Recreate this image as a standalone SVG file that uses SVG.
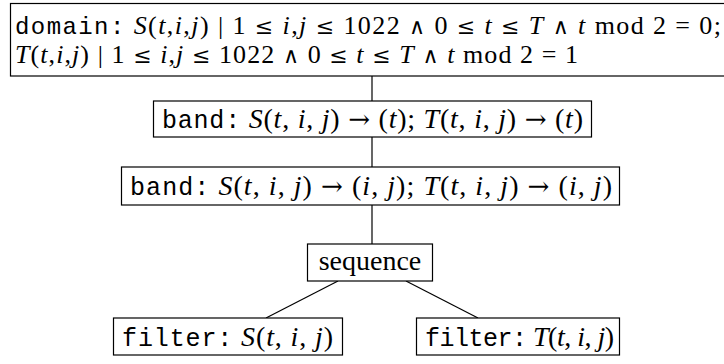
<svg xmlns="http://www.w3.org/2000/svg" width="724" height="364" viewBox="0 0 724 364">
<style>
.box{fill:#fff;stroke:#000;stroke-width:1.2}
.ln{stroke:#000;stroke-width:1.2;fill:none}
text{font-family:"Liberation Serif","DejaVu Serif",serif;font-size:28px;fill:#000}
.tt{font-family:"Liberation Mono","DejaVu Sans Mono",monospace;font-size:25px}
.it{font-style:italic}
.sy{font-family:"DejaVu Serif","Liberation Serif",serif;font-size:24px}
.ar{font-family:"DejaVu Serif","Liberation Serif",serif;font-size:26px}
.d{font-size:26px}
.d .tt{font-size:24px}
.d .sy{font-size:22px}
</style>
<rect width="724" height="364" fill="#fff"/>
<g id="connectors">
<line class="ln" x1="372" y1="76" x2="372" y2="101"/>
<line class="ln" x1="372" y1="137" x2="372" y2="167"/>
<line class="ln" x1="372" y1="205" x2="372" y2="244"/>
<line class="ln" x1="338" y1="281" x2="266" y2="318"/>
<line class="ln" x1="406" y1="281" x2="478" y2="318"/>
</g>
<g id="domain">
<rect class="box" x="10.5" y="3.5" width="740" height="72.5"/>
<text class="d" x="15" y="34" textLength="706" lengthAdjust="spacing"><tspan class="tt">domain:</tspan> <tspan class="it">S</tspan>(<tspan class="it">t</tspan>,<tspan class="it">i</tspan>,<tspan class="it">j</tspan>) | 1 <tspan class="sy">≤</tspan> <tspan class="it">i</tspan>,<tspan class="it">j</tspan> <tspan class="sy">≤</tspan> 1022 <tspan class="sy">∧</tspan> 0 <tspan class="sy">≤</tspan> <tspan class="it">t</tspan> <tspan class="sy">≤</tspan> <tspan class="it">T</tspan> <tspan class="sy">∧</tspan> <tspan class="it">t</tspan> mod 2 = 0;</text>
<text class="d" x="15" y="63" textLength="563" lengthAdjust="spacing"><tspan class="it">T</tspan>(<tspan class="it">t</tspan>,<tspan class="it">i</tspan>,<tspan class="it">j</tspan>) | 1 <tspan class="sy">≤</tspan> <tspan class="it">i</tspan>,<tspan class="it">j</tspan> <tspan class="sy">≤</tspan> 1022 <tspan class="sy">∧</tspan> 0 <tspan class="sy">≤</tspan> <tspan class="it">t</tspan> <tspan class="sy">≤</tspan> <tspan class="it">T</tspan> <tspan class="sy">∧</tspan> <tspan class="it">t</tspan> mod 2 = 1</text>
</g>
<g id="band1">
<rect class="box" x="153.5" y="101" width="438" height="36"/>
<text x="162" y="128" textLength="421" lengthAdjust="spacing"><tspan class="tt">band:</tspan> <tspan class="it">S</tspan>(<tspan class="it">t</tspan>, <tspan class="it">i</tspan>, <tspan class="it">j</tspan>) <tspan class="ar">→</tspan> (<tspan class="it">t</tspan>); <tspan class="it">T</tspan>(<tspan class="it">t</tspan>, <tspan class="it">i</tspan>, <tspan class="it">j</tspan>) <tspan class="ar">→</tspan> (<tspan class="it">t</tspan>)</text>
</g>
<g id="band2">
<rect class="box" x="121.5" y="167" width="498" height="38"/>
<text x="130" y="195" textLength="482" lengthAdjust="spacing"><tspan class="tt">band:</tspan> <tspan class="it">S</tspan>(<tspan class="it">t</tspan>, <tspan class="it">i</tspan>, <tspan class="it">j</tspan>) <tspan class="ar">→</tspan> (<tspan class="it">i</tspan>, <tspan class="it">j</tspan>); <tspan class="it">T</tspan>(<tspan class="it">t</tspan>, <tspan class="it">i</tspan>, <tspan class="it">j</tspan>) <tspan class="ar">→</tspan> (<tspan class="it">i</tspan>, <tspan class="it">j</tspan>)</text>
</g>
<g id="sequence">
<rect class="box" x="307.5" y="244" width="125" height="37"/>
<text x="370" y="270" text-anchor="middle">sequence</text>
</g>
<g id="filterS">
<rect class="box" x="113.5" y="318" width="229" height="37"/>
<text x="122" y="346" textLength="211" lengthAdjust="spacing"><tspan class="tt">filter:</tspan> <tspan class="it">S</tspan>(<tspan class="it">t</tspan>, <tspan class="it">i</tspan>, <tspan class="it">j</tspan>)</text>
</g>
<g id="filterT">
<rect class="box" x="416.5" y="318" width="203" height="37"/>
<text x="425" y="346" textLength="189" lengthAdjust="spacing"><tspan class="tt">filter:</tspan> <tspan class="it">T</tspan>(<tspan class="it">t</tspan>, <tspan class="it">i</tspan>, <tspan class="it">j</tspan>)</text>
</g>
</svg>
